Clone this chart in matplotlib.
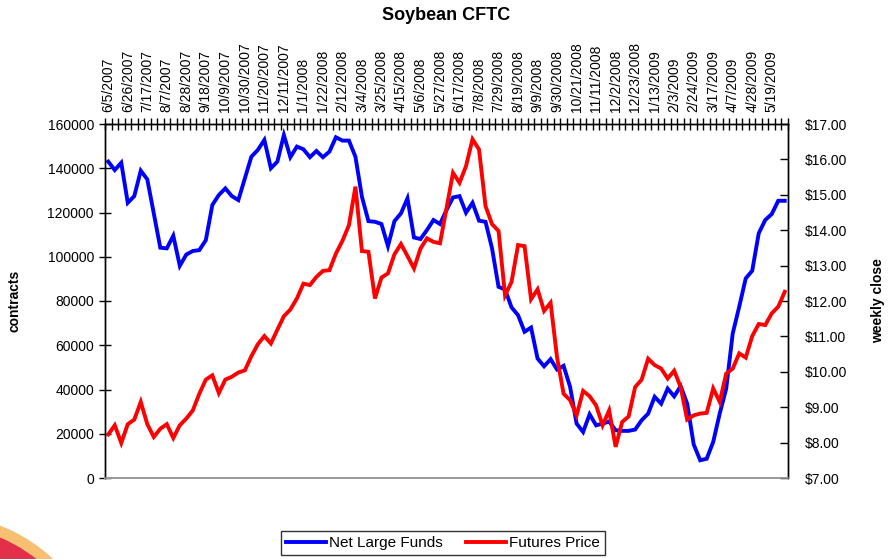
import numpy as np
import matplotlib
matplotlib.use("Agg")
import matplotlib.pyplot as plt
from matplotlib.patches import Circle
from matplotlib.ticker import FixedLocator, FuncFormatter
import datetime as dt

plt.rcParams['font.family'] = ['Liberation Sans', 'DejaVu Sans']

# -------------------- data --------------------
start = dt.date(2007, 6, 5)
n_weeks = 105
dates = [start + dt.timedelta(weeks=i) for i in range(n_weeks)]
date_labels = [f"{d.month}/{d.day}/{d.year}" for d in dates]

net_large_funds = [
    143000, 139200, 142500, 124400, 127400, 138900, 135000, 119600, 104100, 103800,
    109500, 95900, 101000, 102600, 103000, 107500, 123400, 127900, 130900, 127400,
    125600, 135400, 145200, 148300, 152800, 140000, 143000, 155000, 145000, 149800,
    148600, 145000, 147800, 145000, 147500, 154000, 152500, 152500, 145200, 127100,
    116100, 115800, 114800, 104800, 116100, 119600, 126400, 108700, 108000, 112100,
    116600, 114800, 121100, 126800, 127400, 119900, 124400, 116300, 115800, 103800,
    86400, 85200, 77100, 73600, 66100, 68000, 54000, 50500, 53700, 49000,
    50700, 41200, 24600, 20800, 28800, 23800, 24600, 25500, 21600, 21300,
    21300, 21900, 26100, 29100, 36700, 33600, 40400, 36900, 41500, 33600,
    15200, 8000, 8700, 16300, 29100, 40400, 65300, 77400, 90200, 93700,
    110600, 116600, 119300, 125300, 125300,
]

futures_price = [
    8.23, 8.49, 7.99, 8.52, 8.65, 9.15, 8.52, 8.16, 8.39, 8.52,
    8.13, 8.49, 8.68, 8.91, 9.38, 9.78, 9.90, 9.40, 9.78, 9.86,
    9.98, 10.04, 10.44, 10.78, 11.01, 10.80, 11.19, 11.57, 11.76, 12.07,
    12.49, 12.45, 12.68, 12.85, 12.87, 13.34, 13.70, 14.14, 15.23, 13.41,
    13.39, 12.07, 12.66, 12.78, 13.32, 13.61, 13.27, 12.92, 13.48, 13.77,
    13.67, 13.63, 14.62, 15.62, 15.34, 15.81, 16.57, 16.28, 14.68, 14.17,
    13.98, 12.16, 12.54, 13.58, 13.55, 12.05, 12.33, 11.72, 11.95, 10.40,
    9.38, 9.20, 8.77, 9.46, 9.31, 9.05, 8.49, 8.91, 7.88, 8.58,
    8.74, 9.57, 9.78, 10.37, 10.19, 10.09, 9.81, 10.03, 9.57, 8.65,
    8.77, 8.82, 8.84, 9.53, 9.15, 9.95, 10.09, 10.52, 10.40, 11.01,
    11.35, 11.32, 11.65, 11.84, 12.26,
]

left_ticks = [0, 20000, 40000, 60000, 80000, 100000, 120000, 140000, 160000]
right_ticks = [7, 8, 9, 10, 11, 12, 13, 14, 15, 16, 17]

# -------------------- figure --------------------
fig = plt.figure(figsize=(8.91, 5.59), dpi=100)
ax = fig.add_axes([105 / 891, 1 - 478 / 559, 683 / 891, 354 / 559])
ax2 = ax.twinx()

x = np.arange(n_weeks)
l1, = ax.plot(x, net_large_funds, color='#0000ff', lw=2.8, solid_joinstyle='miter')
l2, = ax2.plot(x, futures_price, color='#ff0000', lw=2.8, solid_joinstyle='miter')

ax.set_xlim(-0.5, n_weeks - 0.5)
ax.set_ylim(0, 160000)
ax2.set_ylim(7, 17)

# category axis sits on top
ax.xaxis.tick_top()
ax.xaxis.set_major_locator(FixedLocator(x[::3]))
ax.set_xticklabels(date_labels[::3], rotation=90, fontsize=10)
ax.xaxis.set_minor_locator(FixedLocator(np.arange(-0.5, n_weeks, 1.0)))
ax.tick_params(axis='x', which='major', length=0, pad=9)
ax.tick_params(axis='x', which='minor', top=True, direction='inout', length=8, width=1)

ax.set_yticks(left_ticks)
ax.yaxis.set_major_formatter(FuncFormatter(lambda v, p: f"{int(v)}"))
ax.tick_params(axis='y', direction='inout', length=8, width=1, labelsize=10, pad=4)

ax2.set_yticks(right_ticks)
ax2.yaxis.set_major_formatter(FuncFormatter(lambda v, p: f"${v:.2f}"))
ax2.tick_params(axis='y', direction='in', length=6, width=1, labelsize=10, pad=12)

for a in (ax, ax2):
    a.spines['bottom'].set_color('#999999')
    a.spines['bottom'].set_linewidth(1.2)
    for s in ('top', 'left', 'right'):
        a.spines[s].set_color('black')
        a.spines[s].set_linewidth(1)

ax.set_ylabel('contracts', fontsize=10, fontweight='bold')
ax2.set_ylabel('weekly close', fontsize=10, fontweight='bold')
ax.yaxis.set_label_coords(-0.122, 0.5)
ax2.yaxis.set_label_coords(1.122, 0.5)

fig.text(446 / 891, 1 - 16 / 559, 'Soybean CFTC', ha='center', va='center',
         fontsize=13, fontweight='bold')

leg = fig.legend([l1, l2], ['Net Large Funds', 'Futures Price'], loc='center',
                 bbox_to_anchor=(443 / 891, 1 - 543 / 559), ncol=2, fontsize=11,
                 frameon=True, fancybox=False, handlelength=2.6, columnspacing=1.5,
                 handletextpad=0.2, borderpad=0.35)
leg.get_frame().set_edgecolor('black')
leg.get_frame().set_linewidth(1)

# slide decoration in the bottom-left corner
deco = fig.add_axes([0, 0, 1, 1], zorder=-1)
deco.set_xlim(0, 891)
deco.set_ylim(559, 0)
deco.axis('off')
deco.add_patch(Circle((-60, 680), 165, color='#f6bf72'))
deco.add_patch(Circle((-60, 680), 154, color='#e2304a'))

fig.savefig('out.png', dpi=100)
